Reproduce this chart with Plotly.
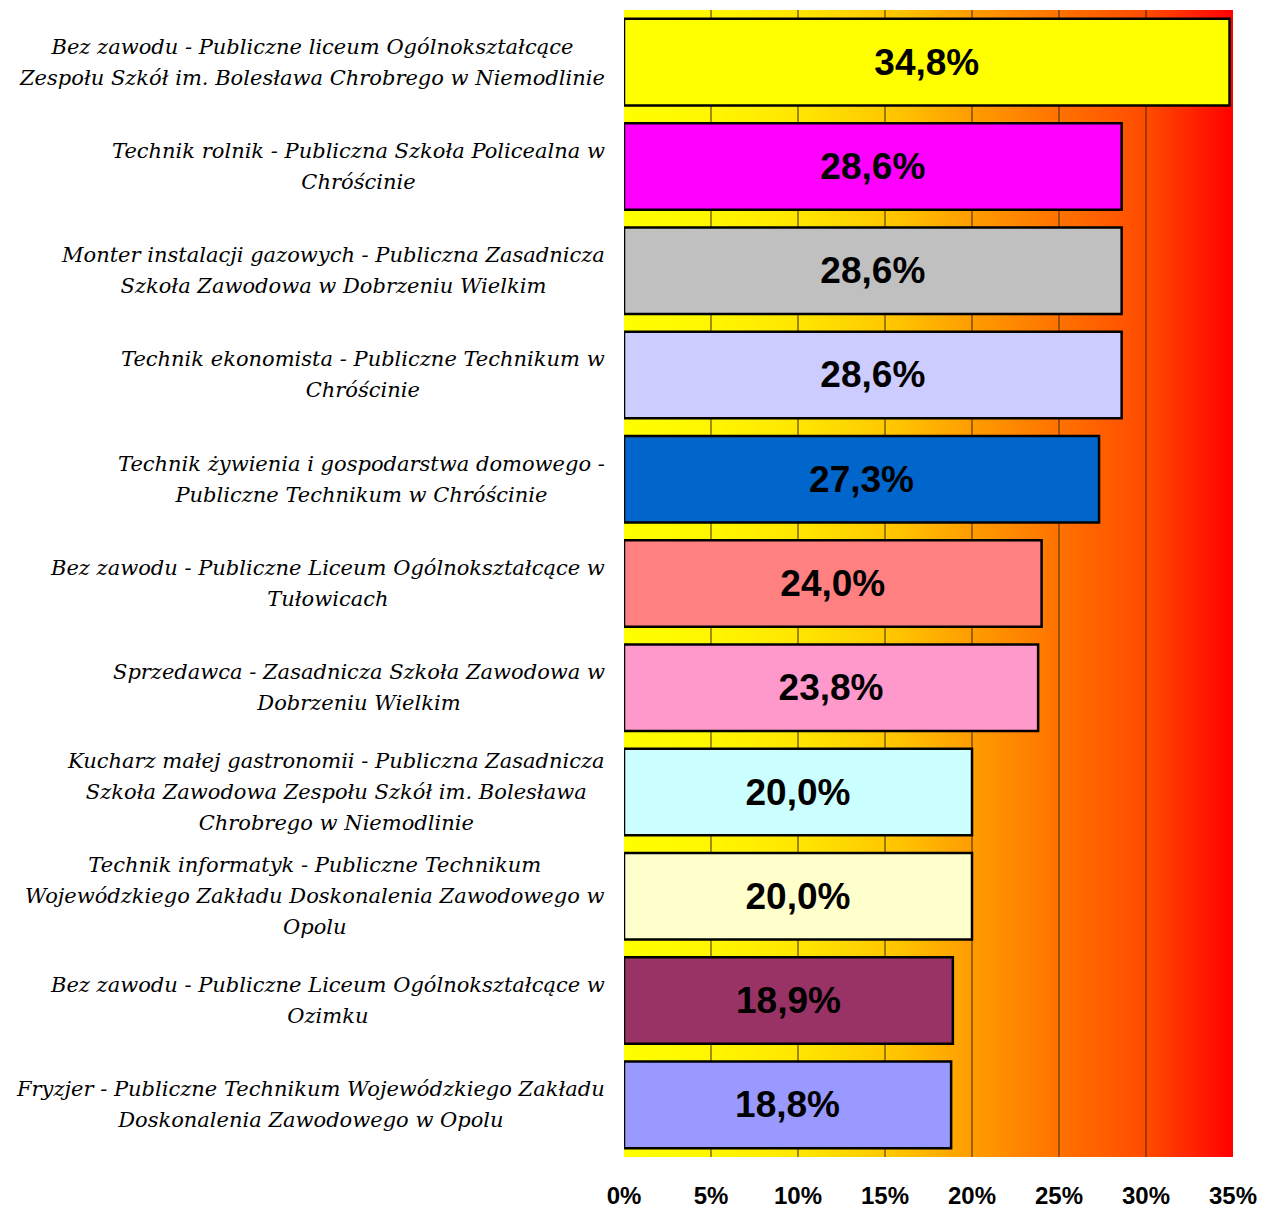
import plotly.graph_objects as go
import numpy as np

categories = [
    "Bez zawodu - Publiczne liceum Ogólnokształcące<br>Zespołu Szkół im. Bolesława Chrobrego w Niemodlinie",
    "Technik rolnik - Publiczna Szkoła Policealna w<br>Chróścinie",
    "Monter instalacji gazowych - Publiczna Zasadnicza<br>Szkoła Zawodowa w Dobrzeniu Wielkim",
    "Technik ekonomista - Publiczne Technikum w<br>Chróścinie",
    "Technik żywienia i gospodarstwa domowego -<br>Publiczne Technikum w Chróścinie",
    "Bez zawodu - Publiczne Liceum Ogólnokształcące w<br>Tułowicach",
    "Sprzedawca - Zasadnicza Szkoła Zawodowa w<br>Dobrzeniu Wielkim",
    "Kucharz małej gastronomii - Publiczna Zasadnicza<br>Szkoła Zawodowa Zespołu Szkół im. Bolesława<br>Chrobrego w Niemodlinie",
    "Technik informatyk - Publiczne Technikum<br>Wojewódzkiego Zakładu Doskonalenia Zawodowego w<br>Opolu",
    "Bez zawodu - Publiczne Liceum Ogólnokształcące w<br>Ozimku",
    "Fryzjer - Publiczne Technikum Wojewódzkiego Zakładu<br>Doskonalenia Zawodowego w Opolu",
]
values = [34.8, 28.6, 28.6, 28.6, 27.3, 24.0, 23.8, 20.0, 20.0, 18.9, 18.8]
bar_colors = ["#FFFF00", "#FF00FF", "#C0C0C0", "#CCCCFF", "#0066CC", "#FF8080",
              "#FF99CC", "#CCFFFF", "#FFFFCC", "#993366", "#9999FF"]
tick_vals = [0, 5, 10, 15, 20, 25, 30, 35]
tick_text = ["0%", "5%", "10%", "15%", "20%", "25%", "30%", "35%"]

n = len(categories)
pos = list(range(n))
labels = [f"{v:.1f}%".replace(".", ",") for v in values]

# background gradient (styling only)
gx = np.linspace(0, 35, 281)
gz = [list(gx), list(gx)]
gscale = [[0.0, "#FFFF00"], [0.15, "#FFF600"], [0.3, "#FFE400"], [0.45, "#FFC400"],
          [0.57, "#FF9C00"], [0.72, "#FF7000"], [0.86, "#FF4A00"], [1.0, "#FF0000"]]

SERIF = "DejaVu Serif"

fig = go.Figure()
fig.add_trace(go.Heatmap(x=gx, y=[-0.5, n - 0.5], z=gz, colorscale=gscale,
                         zmin=0, zmax=35, showscale=False, zsmooth="best",
                         hoverinfo="skip", xaxis="x", yaxis="y"))

gxs, gys = [], []
for t in tick_vals[1:-1]:
    gxs += [t, t, None]
    gys += [-0.5, n - 0.5, None]
fig.add_trace(go.Scatter(x=gxs, y=gys, mode="lines",
                         line=dict(color="#3a2a00", width=1), hoverinfo="skip",
                         showlegend=False, xaxis="x", yaxis="y"))

fig.add_trace(go.Bar(
    x=values, y=pos, orientation="h", xaxis="x2", yaxis="y2",
    marker=dict(color=bar_colors, line=dict(color="black", width=2.5)),
    text=labels, textposition="inside", insidetextanchor="middle",
    textangle=0,
    textfont=dict(family="Liberation Sans", size=37, color="black",
                  weight="bold"),
    width=0.83, showlegend=False,
))

for i, c in enumerate(categories):
    lines = c.split("<br>")
    txt = "<br>".join(f'<span style="font-size:21px">{ln}</span>' for ln in lines)
    fig.add_annotation(x=0, xref="paper", y=i, yref="y", text=txt,
                       xanchor="right", yanchor="middle", align="center",
                       xshift=-17, showarrow=False,
                       font=dict(family=SERIF, style="italic",
                                 size=24, color="black"))

axis_common = dict(showgrid=False, zeroline=False, ticks="", showline=False)
fig.update_layout(
    width=1261, height=1209,
    margin=dict(l=624, r=28, t=10, b=52),
    paper_bgcolor="white", plot_bgcolor="white",
    showlegend=False,
    xaxis=dict(range=[0, 35], tickvals=tick_vals, ticktext=tick_text,
               automargin=False, ticklabelstandoff=22,
               tickfont=dict(family="Liberation Sans", size=24,
                             color="black", weight="bold"), **axis_common),
    yaxis=dict(range=[n - 0.5, -0.5], showticklabels=False, automargin=False,
               **axis_common),
    xaxis2=dict(range=[0, 35], overlaying="x", showticklabels=False,
                automargin=False, **axis_common),
    yaxis2=dict(range=[n - 0.5, -0.5], overlaying="y", showticklabels=False,
                automargin=False, **axis_common),
)

fig.write_html(
    "out.html",
    config={"displayModeBar": False, "staticPlot": True},
    post_script="document.body.style.margin='0';"
                "document.documentElement.style.overflow='hidden';"
                "document.body.style.overflow='hidden';",
)
